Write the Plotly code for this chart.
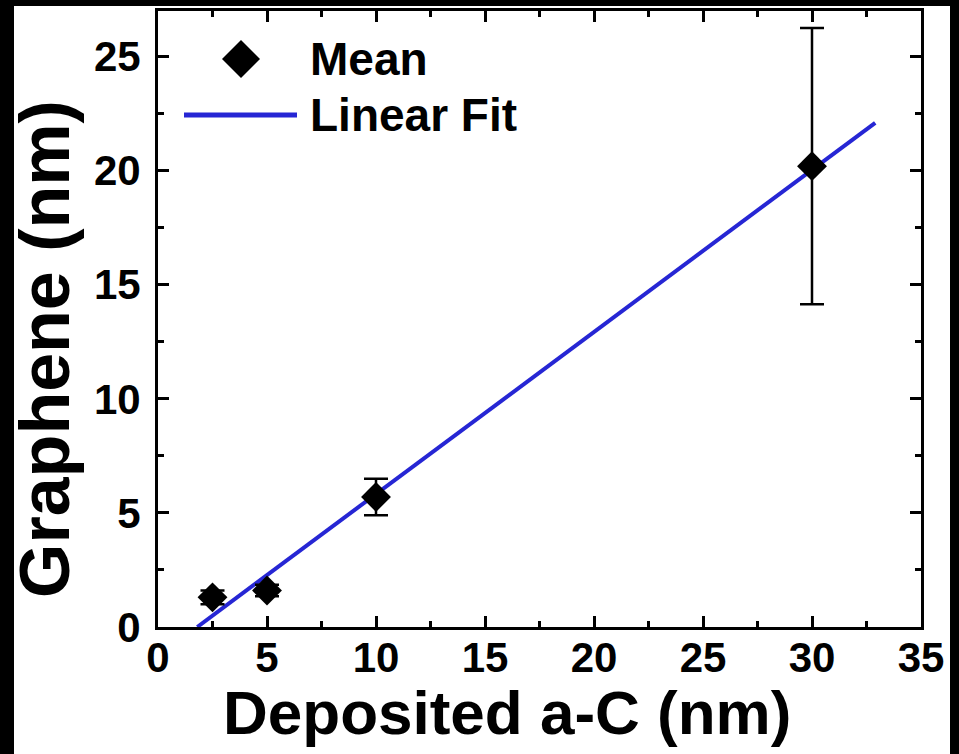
import plotly.graph_objects as go

# Data
deposited = [2.5, 5, 10, 30]
graphene = [1.3, 1.6, 5.7, 20.2]
graphene_err = [0.3, 0.25, 0.8, 6.05]

fit_x = [1.8, 32.9]
fit_y = [0.0, 22.1]

x_ticks = [0, 5, 10, 15, 20, 25, 30, 35]
y_ticks = [0, 5, 10, 15, 20, 25]

FONT = "Liberation Sans, Arial, sans-serif"
BLUE = "#2626d4"

fig = go.Figure()

fig.add_trace(go.Scatter(
    x=fit_x, y=fit_y, mode="lines",
    line=dict(color=BLUE, width=4),
    name="Linear Fit", showlegend=False,
))
fig.add_trace(go.Scatter(
    x=deposited, y=graphene, mode="markers",
    marker=dict(symbol="diamond", size=23, color="black"),
    error_y=dict(type="data", array=graphene_err, visible=True,
                 color="black", thickness=2.5, width=12),
    name="Mean", showlegend=False,
))

L, R, T, B = 158, 38, 11, 127
W, H = 959, 754
pw = W - L - R
ph = H - T - B


def px(xp):
    return (xp - L) / pw


def py(yp):
    return (H - B - yp) / ph


shapes = [
    # white canvas inside black frame
    dict(type="rect", xref="paper", yref="paper",
         x0=px(14), x1=px(950), y0=py(760), y1=py(6),
         fillcolor="white", line=dict(width=0), layer="below"),
    # legend line
    dict(type="line", xref="paper", yref="paper",
         x0=px(184), x1=px(297), y0=py(115), y1=py(115),
         line=dict(color=BLUE, width=5)),
    # legend diamond
    dict(type="path", xref="paper", yref="paper",
         path=(f"M {px(222)},{py(59)} L {px(241)},{py(40)} "
               f"L {px(260)},{py(59)} L {px(241)},{py(78)} Z"),
         fillcolor="black", line=dict(width=0)),
]

annotations = [
    dict(text="<b>Mean</b>", xref="paper", yref="paper",
         x=px(308), y=py(59), xanchor="left", yanchor="middle",
         showarrow=False, font=dict(family=FONT, size=46, color="black")),
    dict(text="<b>Linear Fit</b>", xref="paper", yref="paper",
         x=px(308), y=py(115), xanchor="left", yanchor="middle",
         showarrow=False, font=dict(family=FONT, size=46, color="black")),
    dict(text="<b>Deposited a-C (nm)</b>", xref="paper", yref="paper",
         x=px(507), y=py(712), xanchor="center", yanchor="middle",
         showarrow=False, font=dict(family=FONT, size=62, color="black")),
    dict(text="<b>Graphene (nm)</b>", xref="paper", yref="paper",
         x=px(45), y=py(349), xanchor="center", yanchor="middle",
         textangle=-90,
         showarrow=False, font=dict(family=FONT, size=70, color="black")),
]

axis_common = dict(
    showline=True, linecolor="black", linewidth=3, mirror="ticks",
    ticks="inside", ticklen=11, tickwidth=3, tickcolor="black",
    showgrid=False, zeroline=False,
    tickfont=dict(family=FONT, size=42, color="black", weight="bold"),
)

fig.update_xaxes(
    range=[0, 35], tickvals=x_ticks,
    ticktext=[str(v) for v in x_ticks],
    minor=dict(ticks="inside", ticklen=6, tickwidth=3, tickcolor="black", dtick=2.5),
    ticklabelstandoff=-8,
    **axis_common,
)
fig.update_yaxes(
    range=[0, 27], tickvals=y_ticks,
    ticktext=[str(v) for v in y_ticks],
    minor=dict(ticks="inside", ticklen=6, tickwidth=3, tickcolor="black", dtick=2.5),
    ticklabelstandoff=6,
    **axis_common,
)

fig.update_layout(
    width=W, height=H,
    margin=dict(l=L, r=R, t=T, b=B, autoexpand=False),
    paper_bgcolor="black",
    plot_bgcolor="white",
    shapes=shapes,
    annotations=annotations,
    showlegend=False,
)

fig.write_html(
    "out.html",
    config={"displayModeBar": False},
    post_script="document.body.style.margin='0';document.body.style.background='black';document.body.style.overflow='hidden';",
)
